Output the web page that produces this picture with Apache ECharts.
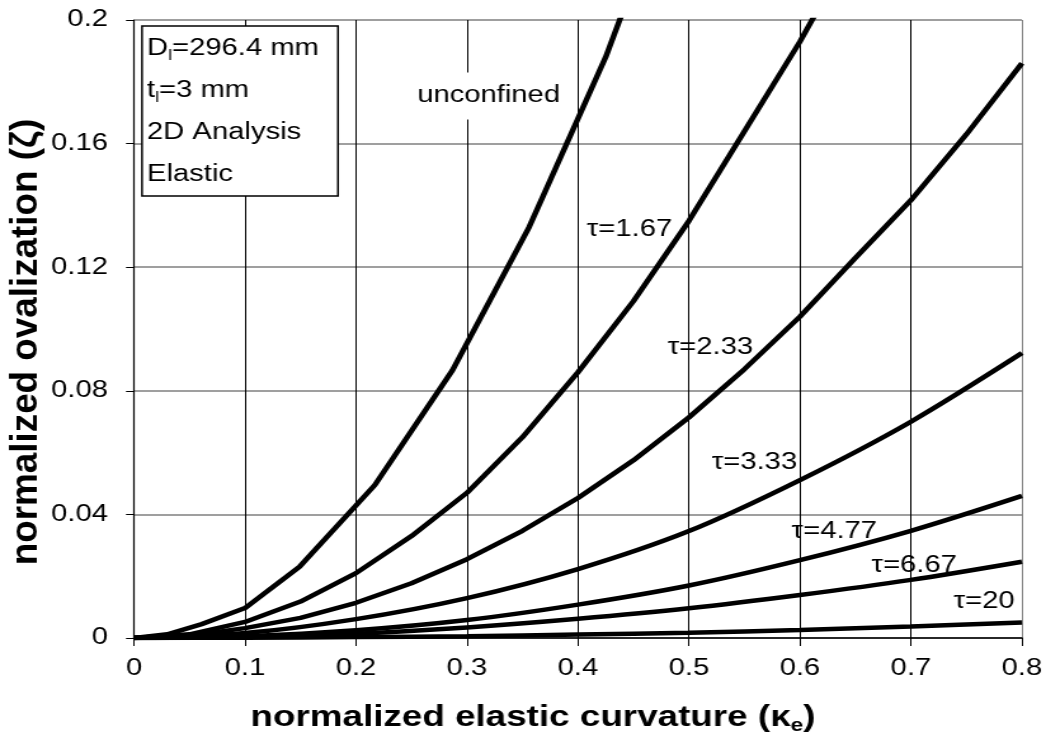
<!DOCTYPE html>
<html>
<head>
<meta charset="utf-8">
<script src="https://cdn.jsdelivr.net/npm/echarts@6/dist/echarts.min.js"></script>
<style>
  html, body { margin: 0; padding: 0; background: #fff; overflow: hidden; }
  /* the chart is laid out narrower and widened on screen, giving the wide lettering */
  #chart { width: 824px; height: 738px; transform: scaleX(1.269417); transform-origin: 0 0; }
</style>
</head>
<body>
<div id="chart"></div>
<script>
// normalized elastic curvature values for each curve
const kappaUnconfined = [0, 0.03, 0.061, 0.1, 0.149, 0.217, 0.287, 0.356, 0.425, 0.49];
const zetaUnconfined  = [0, 0.0012, 0.0045, 0.0097, 0.023, 0.0495, 0.0867, 0.133, 0.188, 0.25];

const kappaFine = [0, 0.05, 0.1, 0.15, 0.2, 0.25, 0.3, 0.35, 0.4, 0.45, 0.5, 0.55, 0.6, 0.65, 0.7, 0.75, 0.8];
const zetaTau167 = [0, 0.0012, 0.0052, 0.0118, 0.021, 0.033, 0.047, 0.065, 0.086, 0.109, 0.135, 0.164, 0.193, 0.225, 0.258];
const zetaTau233 = [0, 0.0007, 0.0032, 0.0065, 0.0114, 0.0177, 0.0255, 0.0347, 0.0453, 0.0575, 0.0714, 0.087, 0.104, 0.123, 0.1417, 0.163, 0.186];

const kappaCoarse = [0, 0.1, 0.2, 0.3, 0.4, 0.5, 0.6, 0.7, 0.8];
const zetaTau333 = [0, 0.0016, 0.0061, 0.0129, 0.0223, 0.0346, 0.0511, 0.070, 0.0922];
const zetaTau477 = [0, 0.0006, 0.0025, 0.0058, 0.0108, 0.0170, 0.0252, 0.0347, 0.046];
const zetaTau667 = [0, 0.0003, 0.0014, 0.0034, 0.0062, 0.0096, 0.0139, 0.0188, 0.0247];
const zetaTau20  = [0, 0.0001, 0.0003, 0.0006, 0.0011, 0.0017, 0.0026, 0.0037, 0.0050];

// curve annotations, anchored in data coordinates
const labelTexts = ['unconfined', 'τ=1.67', 'τ=2.33', 'τ=3.33', 'τ=4.77', 'τ=6.67', 'τ=20'];
const labelKappa = [0.3213, 0.4464, 0.5194, 0.559, 0.631, 0.703, 0.766];
const labelZeta  = [0.1754, 0.132, 0.0939, 0.0566, 0.0343, 0.0233, 0.01165];

// axis ticks
const xTicks = { min: 0, max: 0.8, step: 0.1 };
const yTicks = { min: 0, max: 0.2, step: 0.04 };

// info box lines
const infoLines = ['{n|D}{s|l}{n|=296.4 mm}', '{n|t}{s|l}{n|=3 mm}', '{n|2D Analysis}', '{n|Elastic}'];

const S = 1046 / 824;            // horizontal widening factor
const hx = v => v / S;           // screen x -> layout x
const FONT = '"Liberation Sans", Arial, Helvetica, sans-serif';

const pair = (ks, zs) => zs.map((z, i) => [ks[i], z]);

const curves = [
  { name: 'unconfined', data: pair(kappaUnconfined, zetaUnconfined), smooth: false },
  { name: 'τ=1.67', data: pair(kappaFine, zetaTau167), smooth: false },
  { name: 'τ=2.33', data: pair(kappaFine, zetaTau233), smooth: false },
  { name: 'τ=3.33', data: pair(kappaCoarse, zetaTau333), smooth: 0.3 },
  { name: 'τ=4.77', data: pair(kappaCoarse, zetaTau477), smooth: 0.3 },
  { name: 'τ=6.67', data: pair(kappaCoarse, zetaTau667), smooth: 0.3 },
  { name: 'τ=20', data: pair(kappaCoarse, zetaTau20), smooth: 0.3 }
];

const fmt = v => (Math.abs(v) < 1e-9 ? '0' : String(+v.toFixed(2)));

const chart = echarts.init(document.getElementById('chart'), null, { renderer: 'canvas' });

const option = {
  animation: false,
  backgroundColor: '#fff',
  textStyle: { fontFamily: FONT, color: '#000' },
  grid: { left: hx(134), right: hx(23.5), top: 20, bottom: 100, containLabel: false },
  xAxis: {
    type: 'value', min: xTicks.min, max: xTicks.max, interval: xTicks.step,
    axisLine: { show: true, lineStyle: { color: '#000', width: 1.5 } },
    axisTick: { show: true, inside: false, length: 8, lineStyle: { color: '#000', width: 1 } },
    axisLabel: { fontSize: 23, color: '#000', fontFamily: FONT, margin: 19, formatter: fmt },
    splitLine: { show: true, lineStyle: { color: ['#000', '#000', '#000', '#000', '#000', '#000', '#000', '#000', '#808080'], width: 1 } }
  },
  yAxis: {
    type: 'value', min: yTicks.min, max: yTicks.max, interval: yTicks.step,
    axisLine: { show: true, lineStyle: { color: '#000', width: 1.2 } },
    axisTick: { show: true, inside: false, length: hx(8), lineStyle: { color: '#000', width: 1 } },
    axisLabel: { fontSize: 23, color: '#000', fontFamily: FONT, margin: hx(26), formatter: fmt },
    splitLine: { show: true, lineStyle: { color: '#7f7f7f', width: 1.5 } }
  },
  series: curves.map(c => ({
    type: 'line', name: c.name, data: c.data, showSymbol: false, symbol: 'none',
    smooth: c.smooth, clip: true, z: 3,
    lineStyle: { color: '#000', width: 4.5 }
  })).concat([{
    type: 'scatter', name: 'labels', z: 10, symbolSize: 0, silent: true,
    itemStyle: { opacity: 1 },
    data: labelTexts.map((t, i) => ({
      value: [labelKappa[i], labelZeta[i]],
      label: i === 0
        ? { backgroundColor: '#fff', padding: [12, hx(14), 12, hx(10)] }
        : {}
    })),
    label: {
      show: true, position: 'inside', fontSize: 23, color: '#000', opacity: 1, fontFamily: FONT,
      lineHeight: 23, align: 'center', verticalAlign: 'middle',
      formatter: p => labelTexts[p.dataIndex]
    }
  }]),
  graphic: [
    {
      type: 'rect', z: 20,
      shape: { x: hx(142), y: 26, width: hx(196), height: 170 },
      style: { fill: '#fff', stroke: '#000', lineWidth: 1.5 }
    }
  ].concat(infoLines.map((t, i) => ({
    type: 'text', z: 21, x: hx(147), y: 49 + i * 42,
    style: {
      text: t, fill: '#000', align: 'left', verticalAlign: 'middle', font: '23px ' + FONT,
      rich: {
        n: { fontSize: 23, fontFamily: FONT, fill: '#000' },
        s: { fontSize: 14, fontFamily: FONT, fill: '#000', padding: [14, 0, 0, 0] }
      }
    }
  }))).concat([
    {
      type: 'text', z: 21, x: hx(533), y: 718,
      style: {
        text: 'normalized elastic curvature (κ{s|e})', fill: '#000',
        align: 'center', verticalAlign: 'middle', font: 'bold 29px ' + FONT,
        rich: { s: { fontSize: 18, fontWeight: 'bold', fontFamily: FONT, fill: '#000', padding: [16, 0, 0, 0] } }
      }
    },
    {
      // rotated title, widened along its own reading direction like the rest of the lettering
      type: 'text', z: 21, x: hx(27), y: 342, rotation: Math.PI / 2, scaleX: S, scaleY: 1,
      style: {
        text: 'normalized ovalization (ζ)', fill: '#000',
        align: 'center', verticalAlign: 'middle', font: 'bold 29px ' + FONT
      }
    }
  ])
};

chart.setOption(option);
</script>
</body>
</html>
